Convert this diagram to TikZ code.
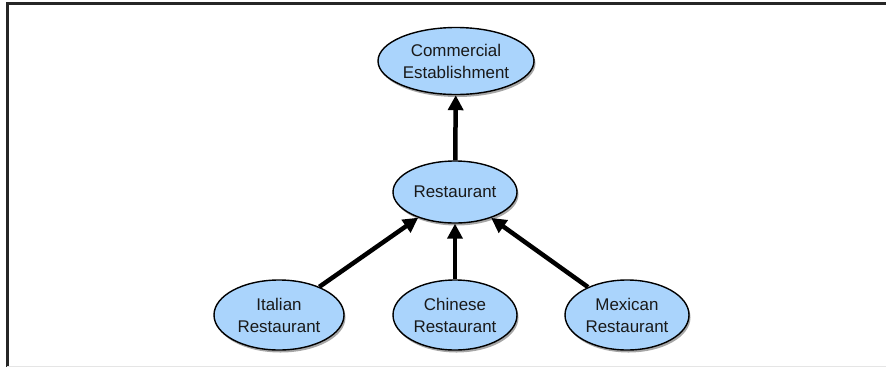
\documentclass[tikz,border=0pt]{standalone}
\usepackage{fontspec}
\setmainfont{Liberation Sans}
\usetikzlibrary{shadows,arrows.meta,shapes.geometric}
\definecolor{nodeblue}{RGB}{170,212,252}
\tikzset{
  concept/.style={ellipse, draw=black, line width=1.4bp, fill=nodeblue,
    inner sep=0pt, align=center, font=\fontsize{17}{22}\selectfont, text=black!90,
    drop shadow={shadow xshift=1.5bp, shadow yshift=-2.5bp, opacity=0.35, fill=black}},
  isa/.style={line width=4.5bp, -{Triangle[length=15bp,width=15bp]}, black},
}
\begin{document}
\begin{tikzpicture}[x=1bp,y=-1bp]
\useasboundingbox (0,0) rectangle (886,367);
\draw[line width=2.2bp, black!85] (7.5,367) -- (7.5,3.5) -- (886,3.5);
\draw[line width=1bp, black!10] (7,366) -- (886,366);
\node[concept, minimum width=156bp, minimum height=67bp] (ce) at (456,61) {Commercial\\Establishment};
\node[concept, minimum width=124bp, minimum height=62bp] (r) at (455,192) {Restaurant};
\node[concept, minimum width=130bp, minimum height=70bp] (it) at (279,315) {Italian\\Restaurant};
\node[concept, minimum width=124bp, minimum height=70bp] (ch) at (455,315) {Chinese\\Restaurant};
\node[concept, minimum width=124bp, minimum height=70bp] (mx) at (627,315) {Mexican\\Restaurant};
\draw[isa] (r) -- (ce);
\draw[isa] (it) -- (r);
\draw[isa] (ch) -- (r);
\draw[isa] (mx) -- (r);
\end{tikzpicture}
\end{document}
